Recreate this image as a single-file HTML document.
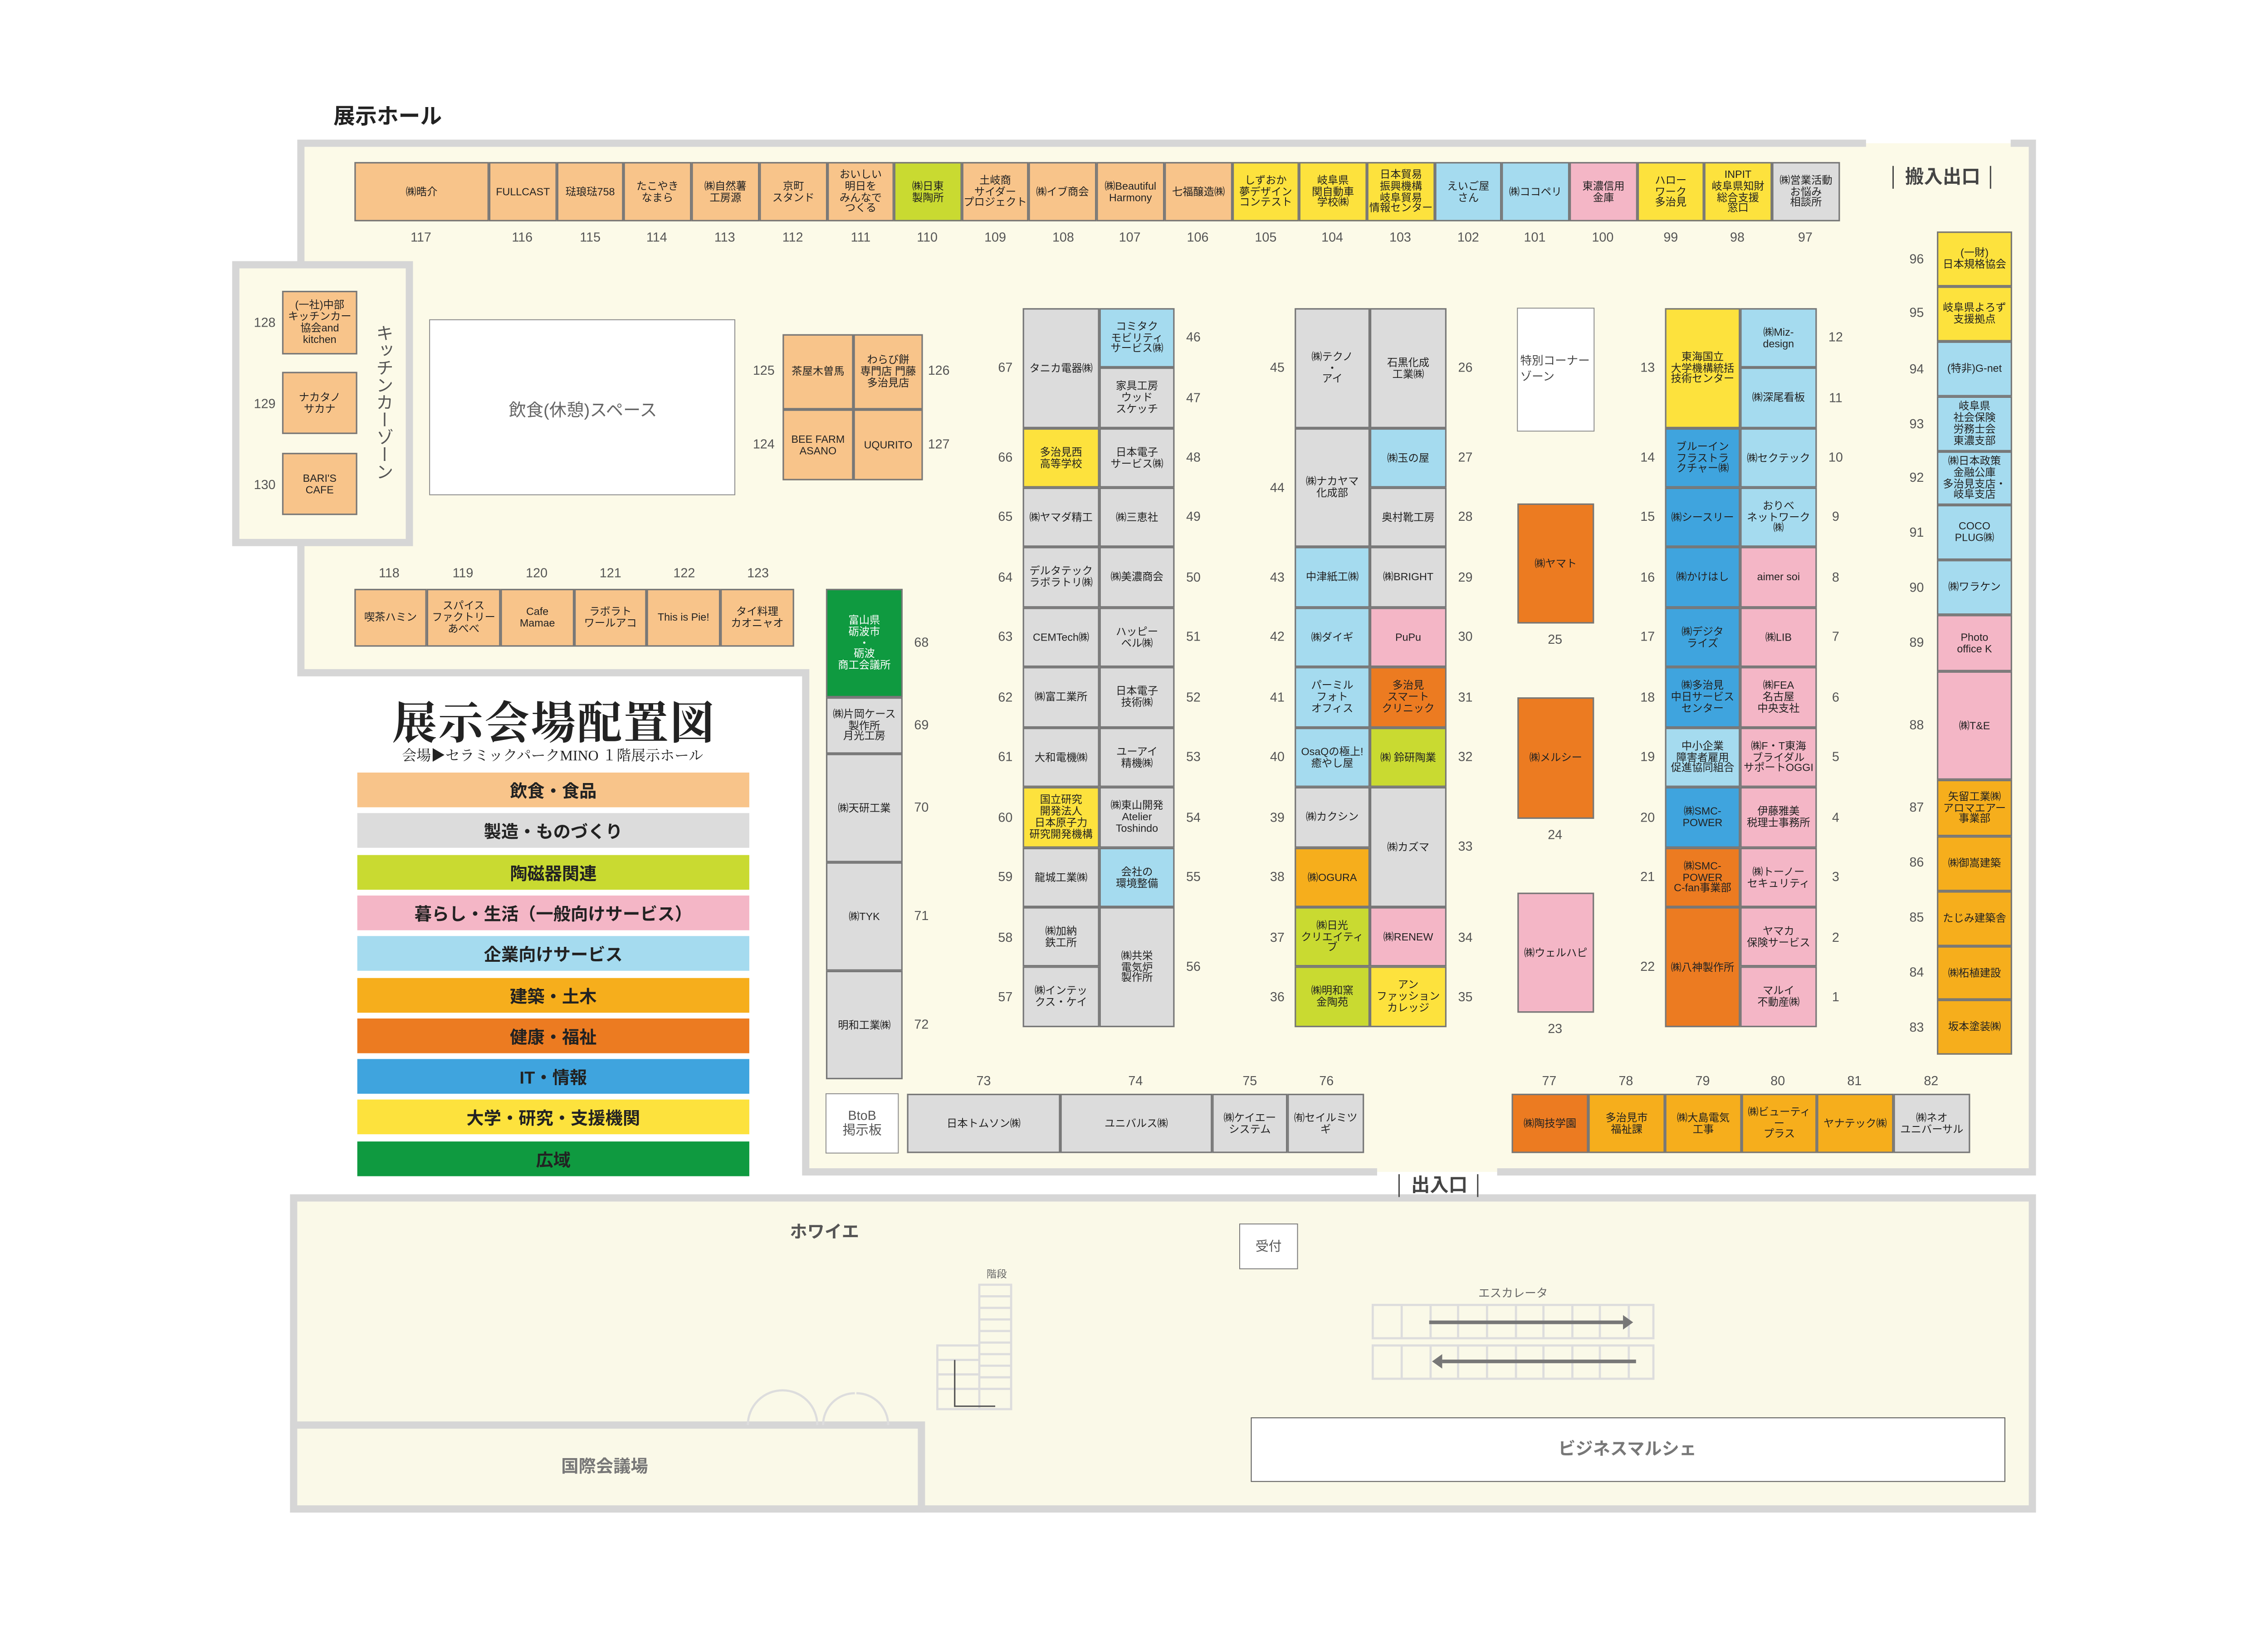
<!DOCTYPE html>
<html><head><meta charset="utf-8">
<style>
body{margin:0;background:#fff;width:5099px;height:3625px;overflow:hidden}
#w{position:absolute;left:0;top:0;width:1599px;height:1137px;transform:scale(3.189);transform-origin:0 0;font-family:"Liberation Sans","Noto Sans CJK JP",sans-serif;color:#333}
.b{position:absolute;display:flex;align-items:center;justify-content:center;text-align:center;font-size:7.3px;line-height:1.08;border:0.6px solid #777;box-sizing:border-box;overflow:hidden;color:#222}
.n{position:absolute;font-size:9px;color:#555;transform:translate(-50%,-50%);white-space:nowrap}
.f{background:#f8c48a}.m{background:#dcdcdc}.c{background:#c9da31}.l{background:#f4b6c6}.s{background:#a5dbef}.k{background:#f6ae1c}.h{background:#ec7b21}.i{background:#3fa4de}.u{background:#fde23d}.w{background:#0f9a40;color:#fff}.x{background:#fff}
.lg{position:absolute;left:247px;width:271px;height:24px;display:flex;align-items:center;justify-content:center;font-size:12px;font-weight:bold;color:#222}
.t{position:absolute;transform:translate(-50%,-50%);white-space:nowrap}
</style></head><body><div id="w">
<svg width="1545" height="1099" style="position:absolute;left:0;top:0">
<polygon points="208,99 1405,99 1405,810 557,810 557,465 208,465" fill="#fcfae8"/>
<path d="M1290,99 H208 V465 H557 V810 H952 M1035,810 H1405 V99 H1390" fill="none" stroke="#d6d6d6" stroke-width="5"/>
<rect x="163" y="183" width="120" height="192" fill="#fcfae8" stroke="#d6d6d6" stroke-width="5"/>
<rect x="203" y="828" width="1202" height="215" fill="#faf9e8" stroke="#d6d6d6" stroke-width="5"/>
<rect x="203" y="985" width="434" height="58" fill="#faf9e8" stroke="#d6d6d6" stroke-width="5"/>
<rect x="865" y="980" width="521" height="44" fill="#fff" stroke="#555" stroke-width="0.6"/>
<rect x="297" y="221" width="211" height="121" fill="#fff" stroke="#888" stroke-width="0.6"/>
<rect x="1049" y="213" width="53" height="85" fill="#fff" stroke="#888" stroke-width="0.6"/>
<rect x="571" y="756" width="50" height="41" fill="#fff" stroke="#888" stroke-width="0.6"/>
<rect x="857" y="846" width="40" height="31" fill="#fff" stroke="#777" stroke-width="0.6"/>
<g stroke="#ddd" stroke-width="1.5" fill="none">
<rect x="949" y="902" width="194" height="23"/><rect x="949" y="930" width="194" height="23"/>
<path d="M969,902v23M989,902v23M1008,902v23M1028,902v23M1048,902v23M1067,902v23M1087,902v23M1106,902v23M1126,902v23M969,930v23M989,930v23M1008,930v23M1028,930v23M1048,930v23M1067,930v23M1087,930v23M1106,930v23M1126,930v23"/>
<path d="M677,888h22v86h-22zM677,896h22M677,904h22M677,912h22M677,920h22M677,928h22M677,936h22M677,944h22M677,952h22M677,960h22M648,930h29v44h-29zM648,940h29M648,950h29M648,960h29"/>
<path d="M517,985 a24,24 0 0 1 24,-24 M565,985 a24,24 0 0 0 -24,-24 M569,985 a22,22 0 0 1 22,-22 M614,985 a22,22 0 0 0 -22,-22"/>
</g>
<path d="M660,940v32h28" stroke="#555" stroke-width="1" fill="none"/>
<g stroke="#777" stroke-width="2.5" fill="#777"><path d="M988,914h134"/><path d="M997,941h134"/></g>
<polygon points="1122,909 1129,914 1122,919" fill="#777"/><polygon points="997,936 990,941 997,946" fill="#777"/>
</svg>
<div class="t" style="left:268px;top:80px;font-size:15px;font-weight:bold;color:#222">展示ホール</div>
<div class="t" style="left:1343px;top:121px;font-size:13px;font-weight:bold;color:#444">│ 搬入出口 │</div>
<div class="t" style="left:995px;top:818px;font-size:13px;font-weight:bold;color:#444">│ 出入口 │</div>
<div class="t" style="left:403px;top:283px;font-size:12px;color:#666">飲食(休憩)スペース</div>
<div class="t" style="left:1075px;top:255px;font-size:8px;color:#444">特別コーナー<br>ゾーン</div>
<div class="t" style="left:596px;top:777px;font-size:9px;color:#555;text-align:center;line-height:1.1">BtoB<br>掲示板</div>
<div class="t" style="left:877px;top:861px;font-size:9px;color:#555">受付</div>
<div class="t" style="left:570px;top:851px;font-size:12px;font-weight:bold;color:#555">ホワイエ</div>
<div class="t" style="left:689px;top:881px;font-size:7px;color:#666">階段</div>
<div class="t" style="left:1046px;top:894px;font-size:8px;color:#666">エスカレータ</div>
<div class="t" style="left:418px;top:1013px;font-size:12px;font-weight:bold;color:#777">国際会議場</div>
<div class="t" style="left:1125px;top:1001px;font-size:12px;font-weight:bold;color:#777">ビジネスマルシェ</div>
<div class="t" style="left:266px;top:278px;font-size:12px;color:#555;writing-mode:vertical-rl">キッチンカーゾーン</div>
<div class="t" style="left:383px;top:497px;font-size:31px;font-weight:bold;font-family:'Liberation Serif','Noto Serif CJK SC',serif;color:#222;letter-spacing:1px">展示会場配置図</div>
<div class="t" style="left:382px;top:521px;font-size:10px;font-family:'Liberation Serif','Noto Serif CJK SC',serif;color:#222">会場▶セラミックパークMINO １階展示ホール</div>
<div class="lg f" style="top:534px">飲食・食品</div>
<div class="lg m" style="top:562px">製造・ものづくり</div>
<div class="lg c" style="top:591px">陶磁器関連</div>
<div class="lg l" style="top:619px">暮らし・生活（一般向けサービス）</div>
<div class="lg s" style="top:647px">企業向けサービス</div>
<div class="lg k" style="top:676px">建築・土木</div>
<div class="lg h" style="top:704px">健康・福祉</div>
<div class="lg i" style="top:732px">IT・情報</div>
<div class="lg u" style="top:760px">大学・研究・支援機関</div>
<div class="lg w" style="top:789px;color:#222">広域</div>

<!-- top row -->
<div class="b f" style="left:245px;top:112px;width:93px;height:41px">㈱晧介</div>
<div class="b f" style="left:338px;top:112px;width:47px;height:41px">FULLCAST</div>
<div class="b f" style="left:385px;top:112px;width:46px;height:41px">琺琅琺758</div>
<div class="b f" style="left:431px;top:112px;width:47px;height:41px">たこやき<br>なまら</div>
<div class="b f" style="left:478px;top:112px;width:47px;height:41px">㈱自然薯<br>工房源</div>
<div class="b f" style="left:525px;top:112px;width:47px;height:41px">京町<br>スタンド</div>
<div class="b f" style="left:572px;top:112px;width:46px;height:41px">おいしい<br>明日を<br>みんなで<br>つくる</div>
<div class="b c" style="left:618px;top:112px;width:47px;height:41px">㈱日東<br>製陶所</div>
<div class="b f" style="left:665px;top:112px;width:46px;height:41px">土岐商<br>サイダー<br>プロジェクト</div>
<div class="b f" style="left:711px;top:112px;width:47px;height:41px">㈱イブ商会</div>
<div class="b f" style="left:758px;top:112px;width:47px;height:41px">㈱Beautiful<br>Harmony</div>
<div class="b f" style="left:805px;top:112px;width:47px;height:41px">七福醸造㈱</div>
<div class="b u" style="left:852px;top:112px;width:46px;height:41px">しずおか<br>夢デザイン<br>コンテスト</div>
<div class="b u" style="left:898px;top:112px;width:47px;height:41px">岐阜県<br>関自動車<br>学校㈱</div>
<div class="b u" style="left:945px;top:112px;width:47px;height:41px">日本貿易<br>振興機構<br>岐阜貿易<br>情報センター</div>
<div class="b s" style="left:992px;top:112px;width:46px;height:41px">えいご屋<br>さん</div>
<div class="b s" style="left:1038px;top:112px;width:47px;height:41px">㈱ココペリ</div>
<div class="b l" style="left:1085px;top:112px;width:47px;height:41px">東濃信用<br>金庫</div>
<div class="b u" style="left:1132px;top:112px;width:46px;height:41px">ハロー<br>ワーク<br>多治見</div>
<div class="b u" style="left:1178px;top:112px;width:47px;height:41px">INPIT<br>岐阜県知財<br>総合支援<br>窓口</div>
<div class="b m" style="left:1225px;top:112px;width:47px;height:41px">㈱営業活動<br>お悩み<br>相談所</div>
<div class="n" style="left:291px;top:164px">117</div><div class="n" style="left:361px;top:164px">116</div><div class="n" style="left:408px;top:164px">115</div><div class="n" style="left:454px;top:164px">114</div><div class="n" style="left:501px;top:164px">113</div><div class="n" style="left:548px;top:164px">112</div><div class="n" style="left:595px;top:164px">111</div><div class="n" style="left:641px;top:164px">110</div><div class="n" style="left:688px;top:164px">109</div><div class="n" style="left:735px;top:164px">108</div><div class="n" style="left:781px;top:164px">107</div><div class="n" style="left:828px;top:164px">106</div><div class="n" style="left:875px;top:164px">105</div><div class="n" style="left:921px;top:164px">104</div><div class="n" style="left:968px;top:164px">103</div><div class="n" style="left:1015px;top:164px">102</div><div class="n" style="left:1061px;top:164px">101</div><div class="n" style="left:1108px;top:164px">100</div><div class="n" style="left:1155px;top:164px">99</div><div class="n" style="left:1201px;top:164px">98</div><div class="n" style="left:1248px;top:164px">97</div>

<!-- kitchen -->
<div class="b f" style="left:195px;top:201px;width:52px;height:44px">(一社)中部<br>キッチンカー<br>協会and<br>kitchen</div>
<div class="b f" style="left:195px;top:257px;width:52px;height:43px">ナカタノ<br>サカナ</div>
<div class="b f" style="left:195px;top:313px;width:52px;height:43px">BARI'S<br>CAFE</div>
<div class="n" style="left:183px;top:223px">128</div><div class="n" style="left:183px;top:279px">129</div><div class="n" style="left:183px;top:335px">130</div>

<!-- 124-127 -->
<div class="b f" style="left:541px;top:231px;width:49px;height:52px">茶屋木曽馬</div>
<div class="b f" style="left:590px;top:231px;width:48px;height:52px">わらび餅<br>専門店 門藤<br>多治見店</div>
<div class="b f" style="left:541px;top:283px;width:49px;height:49px">BEE FARM<br>ASANO</div>
<div class="b f" style="left:590px;top:283px;width:48px;height:49px">UQURITO</div>
<div class="n" style="left:528px;top:256px">125</div><div class="n" style="left:649px;top:256px">126</div><div class="n" style="left:528px;top:307px">124</div><div class="n" style="left:649px;top:307px">127</div>

<!-- 118-123 -->
<div class="b f" style="left:245px;top:407px;width:50px;height:40px">喫茶ハミン</div>
<div class="b f" style="left:295px;top:407px;width:51px;height:40px">スパイス<br>ファクトリー<br>あべべ</div>
<div class="b f" style="left:346px;top:407px;width:51px;height:40px">Cafe<br>Mamae</div>
<div class="b f" style="left:397px;top:407px;width:50px;height:40px">ラボラト<br>ワールアコ</div>
<div class="b f" style="left:447px;top:407px;width:51px;height:40px">This is Pie!</div>
<div class="b f" style="left:498px;top:407px;width:51px;height:40px">タイ料理<br>カオニャオ</div>
<div class="n" style="left:269px;top:396px">118</div><div class="n" style="left:320px;top:396px">119</div><div class="n" style="left:371px;top:396px">120</div><div class="n" style="left:422px;top:396px">121</div><div class="n" style="left:473px;top:396px">122</div><div class="n" style="left:524px;top:396px">123</div>

<!-- 68-72 -->
<div class="b w" style="left:571px;top:407px;width:53px;height:75px">富山県<br>砺波市<br>・<br>砺波<br>商工会議所</div>
<div class="b m" style="left:571px;top:482px;width:53px;height:39px">㈱片岡ケース<br>製作所<br>月光工房</div>
<div class="b m" style="left:571px;top:521px;width:53px;height:75px">㈱天研工業</div>
<div class="b m" style="left:571px;top:596px;width:53px;height:75px">㈱TYK</div>
<div class="b m" style="left:571px;top:671px;width:53px;height:75px">明和工業㈱</div>
<div class="n" style="left:637px;top:444px">68</div><div class="n" style="left:637px;top:501px">69</div><div class="n" style="left:637px;top:558px">70</div><div class="n" style="left:637px;top:633px">71</div><div class="n" style="left:637px;top:708px">72</div>

<!-- block 67/46 -->
<div class="b m" style="left:707px;top:213px;width:53px;height:83px">タニカ電器㈱</div>
<div class="b u" style="left:707px;top:296px;width:53px;height:41px">多治見西<br>高等学校</div>
<div class="b m" style="left:707px;top:337px;width:53px;height:41px">㈱ヤマダ精工</div>
<div class="b m" style="left:707px;top:378px;width:53px;height:42px">デルタテック<br>ラボラトリ㈱</div>
<div class="b m" style="left:707px;top:420px;width:53px;height:41px">CEMTech㈱</div>
<div class="b m" style="left:707px;top:461px;width:53px;height:42px">㈱富工業所</div>
<div class="b m" style="left:707px;top:503px;width:53px;height:41px">大和電機㈱</div>
<div class="b u" style="left:707px;top:544px;width:53px;height:42px">国立研究<br>開発法人<br>日本原子力<br>研究開発機構</div>
<div class="b m" style="left:707px;top:586px;width:53px;height:41px">龍城工業㈱</div>
<div class="b m" style="left:707px;top:627px;width:53px;height:41px">㈱加納<br>鉄工所</div>
<div class="b m" style="left:707px;top:668px;width:53px;height:42px">㈱インテッ<br>クス・ケイ</div>
<div class="b s" style="left:760px;top:213px;width:52px;height:41px">コミタク<br>モビリティ<br>サービス㈱</div>
<div class="b m" style="left:760px;top:254px;width:52px;height:42px">家具工房<br>ウッド<br>スケッチ</div>
<div class="b m" style="left:760px;top:296px;width:52px;height:41px">日本電子<br>サービス㈱</div>
<div class="b m" style="left:760px;top:337px;width:52px;height:41px">㈱三恵社</div>
<div class="b m" style="left:760px;top:378px;width:52px;height:42px">㈱美濃商会</div>
<div class="b m" style="left:760px;top:420px;width:52px;height:41px">ハッピー<br>ベル㈱</div>
<div class="b m" style="left:760px;top:461px;width:52px;height:42px">日本電子<br>技術㈱</div>
<div class="b m" style="left:760px;top:503px;width:52px;height:41px">ユーアイ<br>精機㈱</div>
<div class="b m" style="left:760px;top:544px;width:52px;height:42px">㈱東山開発<br>Atelier<br>Toshindo</div>
<div class="b s" style="left:760px;top:586px;width:52px;height:41px">会社の<br>環境整備</div>
<div class="b m" style="left:760px;top:627px;width:52px;height:83px">㈱共栄<br>電気炉<br>製作所</div>
<div class="n" style="left:695px;top:254px">67</div><div class="n" style="left:695px;top:316px">66</div><div class="n" style="left:695px;top:357px">65</div><div class="n" style="left:695px;top:399px">64</div><div class="n" style="left:695px;top:440px">63</div><div class="n" style="left:695px;top:482px">62</div><div class="n" style="left:695px;top:523px">61</div><div class="n" style="left:695px;top:565px">60</div><div class="n" style="left:695px;top:606px">59</div><div class="n" style="left:695px;top:648px">58</div><div class="n" style="left:695px;top:689px">57</div>
<div class="n" style="left:825px;top:233px">46</div><div class="n" style="left:825px;top:275px">47</div><div class="n" style="left:825px;top:316px">48</div><div class="n" style="left:825px;top:357px">49</div><div class="n" style="left:825px;top:399px">50</div><div class="n" style="left:825px;top:440px">51</div><div class="n" style="left:825px;top:482px">52</div><div class="n" style="left:825px;top:523px">53</div><div class="n" style="left:825px;top:565px">54</div><div class="n" style="left:825px;top:606px">55</div><div class="n" style="left:825px;top:668px">56</div>

<!-- block 45/26 -->
<div class="b m" style="left:895px;top:213px;width:52px;height:83px">㈱テクノ<br>・<br>アイ</div>
<div class="b m" style="left:895px;top:296px;width:52px;height:82px">㈱ナカヤマ<br>化成部</div>
<div class="b s" style="left:895px;top:378px;width:52px;height:42px">中津紙工㈱</div>
<div class="b s" style="left:895px;top:420px;width:52px;height:41px">㈱ダイギ</div>
<div class="b s" style="left:895px;top:461px;width:52px;height:42px">パーミル<br>フォト<br>オフィス</div>
<div class="b s" style="left:895px;top:503px;width:52px;height:41px">OsaQの極上!<br>癒やし屋</div>
<div class="b m" style="left:895px;top:544px;width:52px;height:42px">㈱カクシン</div>
<div class="b k" style="left:895px;top:586px;width:52px;height:41px">㈱OGURA</div>
<div class="b c" style="left:895px;top:627px;width:52px;height:41px">㈱日光<br>クリエイティブ</div>
<div class="b c" style="left:895px;top:668px;width:52px;height:42px">㈱明和窯<br>金陶苑</div>
<div class="b m" style="left:947px;top:213px;width:53px;height:83px">石黒化成<br>工業㈱</div>
<div class="b s" style="left:947px;top:296px;width:53px;height:41px">㈱玉の屋</div>
<div class="b m" style="left:947px;top:337px;width:53px;height:41px">奥村靴工房</div>
<div class="b m" style="left:947px;top:378px;width:53px;height:42px">㈱BRIGHT</div>
<div class="b l" style="left:947px;top:420px;width:53px;height:41px">PuPu</div>
<div class="b h" style="left:947px;top:461px;width:53px;height:42px">多治見<br>スマート<br>クリニック</div>
<div class="b c" style="left:947px;top:503px;width:53px;height:41px">㈱ 鈴研陶業</div>
<div class="b m" style="left:947px;top:544px;width:53px;height:83px">㈱カズマ</div>
<div class="b l" style="left:947px;top:627px;width:53px;height:41px">㈱RENEW</div>
<div class="b u" style="left:947px;top:668px;width:53px;height:42px">アン<br>ファッション<br>カレッジ</div>
<div class="n" style="left:883px;top:254px">45</div><div class="n" style="left:883px;top:337px">44</div><div class="n" style="left:883px;top:399px">43</div><div class="n" style="left:883px;top:440px">42</div><div class="n" style="left:883px;top:482px">41</div><div class="n" style="left:883px;top:523px">40</div><div class="n" style="left:883px;top:565px">39</div><div class="n" style="left:883px;top:606px">38</div><div class="n" style="left:883px;top:648px">37</div><div class="n" style="left:883px;top:689px">36</div>
<div class="n" style="left:1013px;top:254px">26</div><div class="n" style="left:1013px;top:316px">27</div><div class="n" style="left:1013px;top:357px">28</div><div class="n" style="left:1013px;top:399px">29</div><div class="n" style="left:1013px;top:440px">30</div><div class="n" style="left:1013px;top:482px">31</div><div class="n" style="left:1013px;top:523px">32</div><div class="n" style="left:1013px;top:585px">33</div><div class="n" style="left:1013px;top:648px">34</div><div class="n" style="left:1013px;top:689px">35</div>

<!-- 23-25 -->
<div class="b h" style="left:1049px;top:348px;width:53px;height:83px">㈱ヤマト</div>
<div class="b h" style="left:1049px;top:482px;width:53px;height:84px">㈱メルシー</div>
<div class="b l" style="left:1049px;top:617px;width:53px;height:83px">㈱ウェルハピ</div>
<div class="n" style="left:1075px;top:442px">25</div><div class="n" style="left:1075px;top:577px">24</div><div class="n" style="left:1075px;top:711px">23</div>

<!-- block 13/12 -->
<div class="b u" style="left:1151px;top:213px;width:52px;height:83px">東海国立<br>大学機構統括<br>技術センター</div>
<div class="b i" style="left:1151px;top:296px;width:52px;height:41px">ブルーイン<br>フラストラ<br>クチャー㈱</div>
<div class="b i" style="left:1151px;top:337px;width:52px;height:41px">㈱シースリー</div>
<div class="b i" style="left:1151px;top:378px;width:52px;height:42px">㈱かけはし</div>
<div class="b i" style="left:1151px;top:420px;width:52px;height:41px">㈱デジタ<br>ライズ</div>
<div class="b i" style="left:1151px;top:461px;width:52px;height:42px">㈱多治見<br>中日サービス<br>センター</div>
<div class="b s" style="left:1151px;top:503px;width:52px;height:41px">中小企業<br>障害者雇用<br>促進協同組合</div>
<div class="b i" style="left:1151px;top:544px;width:52px;height:42px">㈱SMC-<br>POWER</div>
<div class="b h" style="left:1151px;top:586px;width:52px;height:41px">㈱SMC-<br>POWER<br>C-fan事業部</div>
<div class="b h" style="left:1151px;top:627px;width:52px;height:83px">㈱八神製作所</div>
<div class="b s" style="left:1203px;top:213px;width:53px;height:41px">㈱Miz-<br>design</div>
<div class="b s" style="left:1203px;top:254px;width:53px;height:42px">㈱深尾看板</div>
<div class="b s" style="left:1203px;top:296px;width:53px;height:41px">㈱セクテック</div>
<div class="b s" style="left:1203px;top:337px;width:53px;height:41px">おりべ<br>ネットワーク㈱</div>
<div class="b l" style="left:1203px;top:378px;width:53px;height:42px">aimer soi</div>
<div class="b l" style="left:1203px;top:420px;width:53px;height:41px">㈱LIB</div>
<div class="b l" style="left:1203px;top:461px;width:53px;height:42px">㈱FEA<br>名古屋<br>中央支社</div>
<div class="b l" style="left:1203px;top:503px;width:53px;height:41px">㈱F・T東海<br>ブライダル<br>サポートOGGI</div>
<div class="b l" style="left:1203px;top:544px;width:53px;height:42px">伊藤雅美<br>税理士事務所</div>
<div class="b l" style="left:1203px;top:586px;width:53px;height:41px">㈱トーノー<br>セキュリティ</div>
<div class="b l" style="left:1203px;top:627px;width:53px;height:41px">ヤマカ<br>保険サービス</div>
<div class="b l" style="left:1203px;top:668px;width:53px;height:42px">マルイ<br>不動産㈱</div>
<div class="n" style="left:1139px;top:254px">13</div><div class="n" style="left:1139px;top:316px">14</div><div class="n" style="left:1139px;top:357px">15</div><div class="n" style="left:1139px;top:399px">16</div><div class="n" style="left:1139px;top:440px">17</div><div class="n" style="left:1139px;top:482px">18</div><div class="n" style="left:1139px;top:523px">19</div><div class="n" style="left:1139px;top:565px">20</div><div class="n" style="left:1139px;top:606px">21</div><div class="n" style="left:1139px;top:668px">22</div>
<div class="n" style="left:1269px;top:233px">12</div><div class="n" style="left:1269px;top:275px">11</div><div class="n" style="left:1269px;top:316px">10</div><div class="n" style="left:1269px;top:357px">9</div><div class="n" style="left:1269px;top:399px">8</div><div class="n" style="left:1269px;top:440px">7</div><div class="n" style="left:1269px;top:482px">6</div><div class="n" style="left:1269px;top:523px">5</div><div class="n" style="left:1269px;top:565px">4</div><div class="n" style="left:1269px;top:606px">3</div><div class="n" style="left:1269px;top:648px">2</div><div class="n" style="left:1269px;top:689px">1</div>

<!-- right column -->
<div class="b u" style="left:1339px;top:160px;width:52px;height:38px">(一財)<br>日本規格協会</div>
<div class="b u" style="left:1339px;top:198px;width:52px;height:38px">岐阜県よろず<br>支援拠点</div>
<div class="b s" style="left:1339px;top:236px;width:52px;height:38px">(特非)G-net</div>
<div class="b s" style="left:1339px;top:274px;width:52px;height:38px">岐阜県<br>社会保険<br>労務士会<br>東濃支部</div>
<div class="b s" style="left:1339px;top:312px;width:52px;height:37px">㈱日本政策<br>金融公庫<br>多治見支店・<br>岐阜支店</div>
<div class="b s" style="left:1339px;top:349px;width:52px;height:38px">COCO<br>PLUG㈱</div>
<div class="b s" style="left:1339px;top:387px;width:52px;height:38px">㈱ワラケン</div>
<div class="b l" style="left:1339px;top:425px;width:52px;height:39px">Photo<br>office K</div>
<div class="b l" style="left:1339px;top:464px;width:52px;height:75px">㈱T&amp;E</div>
<div class="b k" style="left:1339px;top:539px;width:52px;height:39px">矢留工業㈱<br>アロマエアー<br>事業部</div>
<div class="b k" style="left:1339px;top:578px;width:52px;height:38px">㈱御嵩建築</div>
<div class="b k" style="left:1339px;top:616px;width:52px;height:38px">たじみ建築舎</div>
<div class="b k" style="left:1339px;top:654px;width:52px;height:37px">㈱柘植建設</div>
<div class="b k" style="left:1339px;top:691px;width:52px;height:38px">坂本塗装㈱</div>
<div class="n" style="left:1325px;top:179px">96</div><div class="n" style="left:1325px;top:216px">95</div><div class="n" style="left:1325px;top:255px">94</div><div class="n" style="left:1325px;top:293px">93</div><div class="n" style="left:1325px;top:330px">92</div><div class="n" style="left:1325px;top:368px">91</div><div class="n" style="left:1325px;top:406px">90</div><div class="n" style="left:1325px;top:444px">89</div><div class="n" style="left:1325px;top:501px">88</div><div class="n" style="left:1325px;top:558px">87</div><div class="n" style="left:1325px;top:596px">86</div><div class="n" style="left:1325px;top:634px">85</div><div class="n" style="left:1325px;top:672px">84</div><div class="n" style="left:1325px;top:710px">83</div>

<!-- bottom row -->
<div class="b m" style="left:627px;top:756px;width:106px;height:41px">日本トムソン㈱</div>
<div class="b m" style="left:733px;top:756px;width:105px;height:41px">ユニバルス㈱</div>
<div class="b m" style="left:838px;top:756px;width:52px;height:41px">㈱ケイエー<br>システム</div>
<div class="b m" style="left:890px;top:756px;width:53px;height:41px">㈲セイルミツギ</div>
<div class="n" style="left:680px;top:747px">73</div><div class="n" style="left:785px;top:747px">74</div><div class="n" style="left:864px;top:747px">75</div><div class="n" style="left:917px;top:747px">76</div>
<div class="b h" style="left:1045px;top:756px;width:53px;height:41px">㈱陶技学園</div>
<div class="b k" style="left:1098px;top:756px;width:53px;height:41px">多治見市<br>福祉課</div>
<div class="b k" style="left:1151px;top:756px;width:53px;height:41px">㈱大島電気<br>工事</div>
<div class="b k" style="left:1204px;top:756px;width:52px;height:41px">㈱ビューティー<br>プラス</div>
<div class="b k" style="left:1256px;top:756px;width:53px;height:41px">ヤナテック㈱</div>
<div class="b m" style="left:1309px;top:756px;width:53px;height:41px">㈱ネオ<br>ユニバーサル</div>
<div class="n" style="left:1071px;top:747px">77</div><div class="n" style="left:1124px;top:747px">78</div><div class="n" style="left:1177px;top:747px">79</div><div class="n" style="left:1229px;top:747px">80</div><div class="n" style="left:1282px;top:747px">81</div><div class="n" style="left:1335px;top:747px">82</div>
</div></body></html>
